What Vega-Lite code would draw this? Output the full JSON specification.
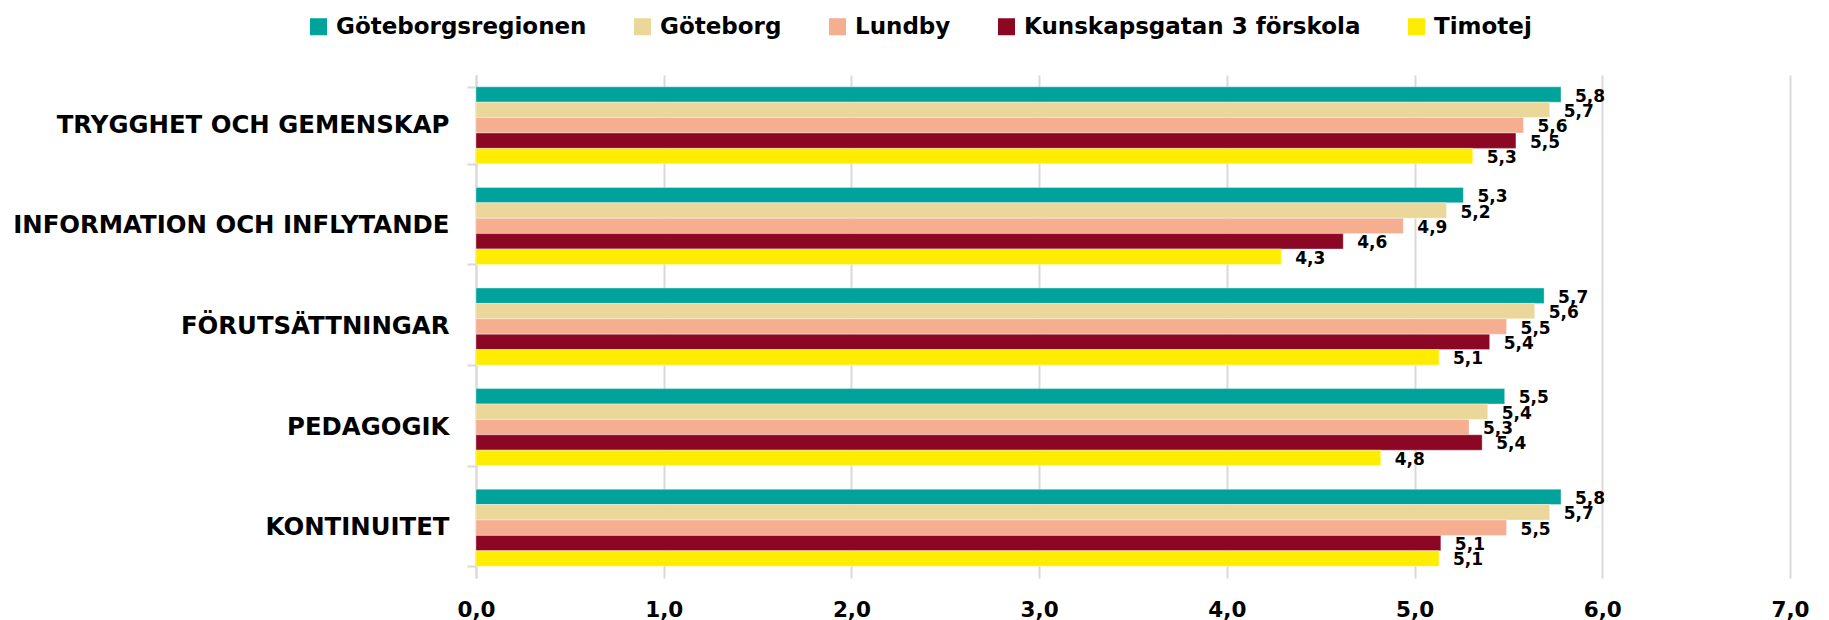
{
  "$schema": "https://vega.github.io/schema/vega-lite/v6.json",
  "width": 1314,
  "height": 503,
  "autosize": {"type": "none"},
  "padding": {"left": 476, "top": 75, "right": 39, "bottom": 42},
  "background": "white",
  "config": {
    "view": {"stroke": null},
    "locale": {"number": {"decimal": ",", "thousands": " ", "grouping": [3], "currency": ["", " kr"]}},
    "font": "DejaVu Sans"
  },
  "data": {
    "values": [
      {"kategori": "TRYGGHET OCH GEMENSKAP", "serie": "Göteborgsregionen", "varde": 5.78},
      {"kategori": "TRYGGHET OCH GEMENSKAP", "serie": "Göteborg", "varde": 5.72},
      {"kategori": "TRYGGHET OCH GEMENSKAP", "serie": "Lundby", "varde": 5.58},
      {"kategori": "TRYGGHET OCH GEMENSKAP", "serie": "Kunskapsgatan 3 förskola", "varde": 5.54},
      {"kategori": "TRYGGHET OCH GEMENSKAP", "serie": "Timotej", "varde": 5.31},
      {"kategori": "INFORMATION OCH INFLYTANDE", "serie": "Göteborgsregionen", "varde": 5.26},
      {"kategori": "INFORMATION OCH INFLYTANDE", "serie": "Göteborg", "varde": 5.17},
      {"kategori": "INFORMATION OCH INFLYTANDE", "serie": "Lundby", "varde": 4.94},
      {"kategori": "INFORMATION OCH INFLYTANDE", "serie": "Kunskapsgatan 3 förskola", "varde": 4.62},
      {"kategori": "INFORMATION OCH INFLYTANDE", "serie": "Timotej", "varde": 4.29},
      {"kategori": "FÖRUTSÄTTNINGAR", "serie": "Göteborgsregionen", "varde": 5.69},
      {"kategori": "FÖRUTSÄTTNINGAR", "serie": "Göteborg", "varde": 5.64},
      {"kategori": "FÖRUTSÄTTNINGAR", "serie": "Lundby", "varde": 5.49},
      {"kategori": "FÖRUTSÄTTNINGAR", "serie": "Kunskapsgatan 3 förskola", "varde": 5.40},
      {"kategori": "FÖRUTSÄTTNINGAR", "serie": "Timotej", "varde": 5.13},
      {"kategori": "PEDAGOGIK", "serie": "Göteborgsregionen", "varde": 5.48},
      {"kategori": "PEDAGOGIK", "serie": "Göteborg", "varde": 5.39},
      {"kategori": "PEDAGOGIK", "serie": "Lundby", "varde": 5.29},
      {"kategori": "PEDAGOGIK", "serie": "Kunskapsgatan 3 förskola", "varde": 5.36},
      {"kategori": "PEDAGOGIK", "serie": "Timotej", "varde": 4.82},
      {"kategori": "KONTINUITET", "serie": "Göteborgsregionen", "varde": 5.78},
      {"kategori": "KONTINUITET", "serie": "Göteborg", "varde": 5.72},
      {"kategori": "KONTINUITET", "serie": "Lundby", "varde": 5.49},
      {"kategori": "KONTINUITET", "serie": "Kunskapsgatan 3 förskola", "varde": 5.14},
      {"kategori": "KONTINUITET", "serie": "Timotej", "varde": 5.13}
    ]
  },
  "encoding": {
    "y": {
      "field": "kategori",
      "type": "nominal",
      "sort": null,
      "scale": {"paddingInner": 0.235, "paddingOuter": 0.1175},
      "axis": {
        "title": null,
        "domainColor": "#D9D9D9",
        "domainWidth": 2,
        "tickColor": "#D9D9D9",
        "tickWidth": 2,
        "tickSize": 9,
        "tickBand": "extent",
        "labelFont": "DejaVu Sans",
        "labelFontWeight": "bold",
        "labelFontSize": 24.4,
        "labelColor": "#000000",
        "labelPadding": 18,
        "labelLimit": 0
      }
    },
    "yOffset": {
      "field": "serie",
      "type": "nominal",
      "sort": ["Göteborgsregionen", "Göteborg", "Lundby", "Kunskapsgatan 3 förskola", "Timotej"],
      "scale": {"paddingInner": 0, "paddingOuter": 0}
    },
    "x": {
      "field": "varde",
      "type": "quantitative",
      "scale": {"domain": [0, 7], "nice": false, "zero": true},
      "axis": {
        "title": null,
        "values": [0, 1, 2, 3, 4, 5, 6, 7],
        "format": ".1f",
        "domain": false,
        "ticks": false,
        "grid": true,
        "gridColor": "#D9D9D9",
        "gridWidth": 2,
        "labelFlush": false,
        "labelOverlap": false,
        "labelFont": "DejaVu Sans",
        "labelFontWeight": "bold",
        "labelFontSize": 21.5,
        "labelColor": "#000000",
        "labelPadding": 21
      }
    }
  },
  "layer": [
    {
      "mark": {"type": "bar", "stroke": "#ffffff", "strokeWidth": 0.6, "strokeOpacity": 0.6},
      "encoding": {
        "color": {
          "field": "serie",
          "type": "nominal",
          "scale": {
            "domain": ["Göteborgsregionen", "Göteborg", "Lundby", "Kunskapsgatan 3 förskola", "Timotej"],
            "range": ["#00A39C", "#EBD799", "#F5AE90", "#8B0723", "#FFEC00"]
          },
          "legend": {
            "title": null,
            "orient": "none",
            "direction": "horizontal",
            "legendX": -169,
            "legendY": -60,
            "padding": 0,
            "symbolType": "square",
            "symbolSize": 289,
            "symbolStrokeWidth": 0,
            "symbolOpacity": 1,
            "labelFont": "DejaVu Sans",
            "labelFontWeight": "bold",
            "labelFontSize": 23,
            "labelColor": "#000000",
            "labelOffset": 6,
            "columnPadding": 44,
            "labelLimit": 0
          }
        }
      }
    },
    {
      "mark": {"type": "text", "align": "left", "baseline": "middle", "dx": 14, "dy": 2, "font": "DejaVu Sans", "fontWeight": "bold", "fontSize": 17, "color": "#000000"},
      "encoding": {
        "text": {"field": "varde", "type": "quantitative", "format": ".1f"}
      }
    }
  ]
}
